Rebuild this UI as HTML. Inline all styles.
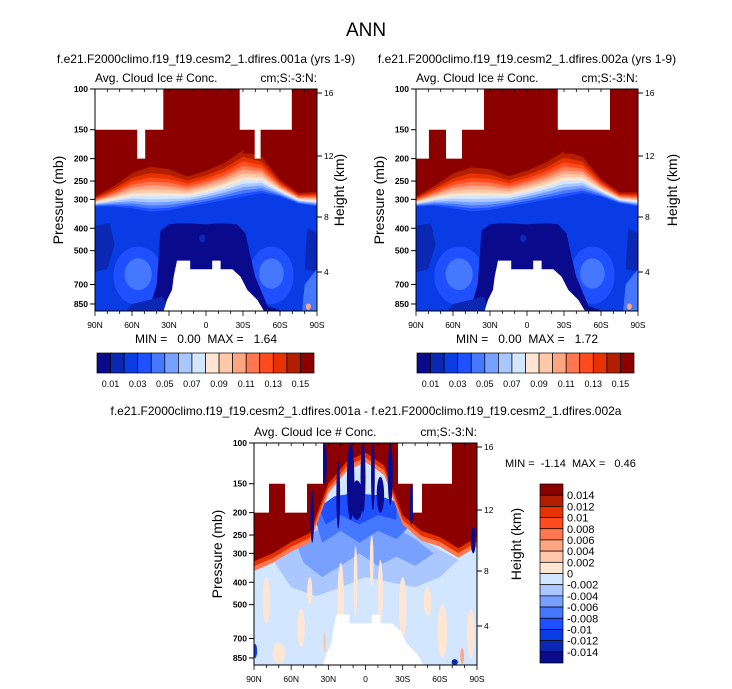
<!DOCTYPE html>
<html><head><meta charset="utf-8"><style>
body{margin:0;background:#fff;width:732px;height:689px;overflow:hidden}
svg{display:block}
text{font-family:"Liberation Sans",sans-serif;fill:#000;white-space:pre}
</style></head><body>
<svg id="c" width="732" height="689">
<text x="366" y="36" text-anchor="middle" font-size="19">ANN</text>
</svg>
<script>
// ---- data ----
const lats=[90,75,60,45,30,15,0,-15,-30,-45,-60,-75,-90];
const redBaseA=[292,264,231,217,222,239,226,209,184,196,247,282,278];
const blueTopA=[322,322,328,339,335,322,313,302,292,282,292,313,322];
const redBaseB=[292,262,232,218,222,238,225,208,186,196,245,280,280];
const blueTopB=[322,320,328,338,334,322,312,302,292,282,292,312,322];
const diffRedBase=[325,300,268,245,150,120,110,125,205,240,255,285,255];
const palette=['#0a0a8c','#0a28b4','#0a3ce6','#1e50ff','#4678ff','#78a0ff','#aac8ff','#d2e6ff','#ffe6d2','#ffc8aa','#ffa582','#ff7850','#ff4b1e','#e63200','#b41e00','#8c0000'];
const cbLabels=['0.01','0.03','0.05','0.07','0.09','0.11','0.13','0.15'];
const diffLabels=['0.014','0.012','0.01','0.008','0.006','0.004','0.002','0','-0.002','-0.004','-0.006','-0.008','-0.01','-0.012','-0.014'];
const pTicks=[100,150,200,250,300,400,500,700,850];
const hTicks=[16,12,8,4];
const latTicks=[90,60,30,0,-30,-60,-90];
const latTickLabels=['90N','60N','30N','0','30S','60S','90S'];
const surfMask=[[23.5,552],[12.8,552],[12.8,601],[-5,601],[-5,552],[-11.8,552],[-11.8,601],[-21.3,601],[-28,647],[-33.5,739],[-41.6,816],[-47,912],[34.4,912],[31.6,816],[27.6,739],[26.2,647]];
const topMaskA=[[[90,100],[34.6,100],[34.6,150],[49.3,150],[49.3,200],[55.8,200],[55.8,150],[90,150]],[[-27.3,100],[-69.6,100],[-69.6,150],[-44.3,150],[-44.3,200],[-39.5,200],[-39.5,150],[-27.3,150]]];
const topMaskB=[[[90,100],[34.9,100],[34.9,150],[52.7,150],[52.7,200],[65.7,200],[65.7,150],[79.5,150],[79.5,200],[90,200]],[[-25,100],[-67.3,100],[-67.3,150],[-25,150]]];
const topMaskD=[[[90,100],[34.3,100],[34.3,150],[47.2,150],[47.2,200],[65,200],[65,150],[77.9,150],[77.9,200],[90,200]],[[-26.2,100],[-69.8,100],[-69.8,150],[-38.3,150],[-38.3,200],[-45.6,200],[-45.6,150],[-26.2,150]]];
const minmax=['MIN =   0.00  MAX =   1.64','MIN =   0.00  MAX =   1.72'];
const NS='http://www.w3.org/2000/svg';
const svg=document.getElementById('c');
function el(tag,attrs,parent){const e=document.createElementNS(NS,tag);for(const k in attrs)e.setAttribute(k,attrs[k]);(parent||svg).appendChild(e);return e;}
function txt(x,y,s,size,anchor,parent){const t=el('text',{x:x,y:y,'font-size':size,'text-anchor':anchor||'start'},parent);t.textContent=s;return t;}

function panel(x0,y0,w,h,id){
  const X=lat=>x0+(90-lat)/180*w;
  const Y=p=>y0+h*Math.log(p/100)/2.21;
  const g=el('g',{});
  
  
  const cp=el('clipPath',{id:'cp'+id},g);
  el('rect',{x:x0,y:y0,width:w,height:h},cp);
  const f=el('g',{'clip-path':'url(#cp'+id+')'},g);
  const poly=(pts,col,name)=>{const e=el('polygon',{points:pts.map(q=>X(q[0]).toFixed(1)+','+Y(q[1]).toFixed(1)).join(' '),fill:col},f);
    
    return e;};
  const ell=(lat,p,dl,p1,p2,col,name)=>{const e=el('ellipse',{cx:X(lat),cy:(Y(p1)+Y(p2))/2,rx:Math.abs(X(lat+dl)-X(lat)),ry:(Y(p2)-Y(p1))/2,fill:col},f);
    
    return e;};
  return {X,Y,g,f,poly,ell,x0,y0,w,h};
}
function upperBands(P,red,blue){
  for(let c=3;c<=15;c++){
    const fr=(15-c)/12;
    const pts=[[90,90]];
    lats.forEach((la,i)=>{const lp=Math.log(red[i])+Math.pow(fr,0.8)*(Math.log(blue[i])-Math.log(red[i]));pts.push([la,Math.exp(lp)]);});
    pts.push([-90,90]);
    P.poly(pts,palette[c],'contour-band-'+c);
  }
}
function icePanel(x0,red,blue,masks,id){
  const P=panel(x0,89,222,222,id);
  el('rect',{x:x0,y:89,width:222,height:222,fill:palette[2]},P.f);
  P.poly([[90,390],[78,380],[74,470],[80,600],[90,620]],palette[1],'dark-region-north');
  P.poly([[-90,420],[-82,400],[-80,600],[-90,620]],palette[1],'dark-region-south');
  P.ell(55,620,20,480,860,palette[3],'midlat-blob-n1');
  P.ell(55,620,11,540,740,palette[4],'midlat-blob-n2');
  P.ell(-53,620,18,480,850,palette[3],'midlat-blob-s1');
  P.ell(-53,620,10,540,730,palette[4],'midlat-blob-s2');
  P.poly([[37,410],[30,385],[20,380],[10,382],[0,385],[-15,380],[-25,385],[-32,420],[-35,500],[-40,650],[-50,870],[-62,912],[40,912],[45,860],[40,700],[38,500]],palette[0],'tropical-low-core');
  P.ell(3,440,2.5,425,460,palette[1],'tropical-spot');
  P.poly([[60,850],[35,790],[30,912],[65,912]],palette[1],'low-band-north');
  P.poly([[-80,700],[-90,600],[-90,912],[-78,912]],palette[4],'polar-south-low');
  P.ell(-83,875,2,845,900,palette[10],'polar-south-spot');
  upperBands(P,red,blue);
  P.poly([[-30,190],[-35,140],[-40,190]],palette[15],'tongue');
  masks.forEach((m,i)=>P.poly(m,'#fff','missing-mask-'+i));
  P.poly(surfMask,'#fff','surface-mask');
  return P;
}
function diffPanel(){
  const P=panel(254,443,223,222,'diff');
  el('rect',{x:254,y:443,width:223,height:222,fill:palette[7]},P.f);
  P.poly([[75,320],[60,270],[45,240],[30,220],[15,210],[0,200],[-15,210],[-30,230],[-45,260],[-60,290],[-75,320],[-60,380],[-40,420],[-20,400],[0,380],[20,420],[40,460],[60,420]],palette[6],'neg-region-upper');
  P.poly([[55,280],[45,250],[30,225],[0,215],[-20,225],[-40,260],[-55,300],[-40,340],[-25,310],[-10,340],[5,300],[20,340],[35,380],[50,330]],palette[5],'neg-region-upper2');
  P.poly([[42,200],[30,180],[10,170],[-10,175],[-28,190],[-35,230],[-25,260],[-10,240],[5,270],[20,240],[35,270]],palette[4],'neg-region-upper3');
  P.poly([[38,190],[25,170],[10,165],[-10,168],[-25,180],[-25,215],[-10,205],[5,225],[20,205],[32,225]],palette[3],'neg-region-upper4');
  const pinks=[[80,450,3,380,600],[20,450,2.5,330,650],[8,420,1.5,280,560],[-12,430,2,320,600],[-30,500,3,380,700],[52,620,3,520,760],[-62,640,4,500,850],[-85,640,3,520,850],[70,800,5,730,900],[-5,330,1.5,250,420],[-50,480,3,420,560],[45,430,2,380,500]];
  pinks.forEach((q,i)=>P.ell(q[0],0,q[2],q[3],q[4],palette[8],'pos-streak-'+i));
  P.ell(33,730,1.2,660,800,palette[9],'pos-spot-1');
  P.ell(-78,830,1.5,770,900,palette[10],'pos-spot-2');
  P.ell(89,790,1.5,740,850,palette[2],'neg-spot-1');
  P.ell(-72,885,2.5,860,912,palette[1],'neg-spot-2');
  const band=(k,col)=>{const pts=[[90,90]];lats.forEach((la,i)=>pts.push([la,diffRedBase[i]*k]));pts.push([-90,90]);P.poly(pts,col,'pos-band');};
  band(1.1,palette[11]);band(1.05,palette[13]);band(1.0,palette[15]);
  const navy=[[33,100,1.8,100,150],[12,100,3,100,215],[2,100,2,100,200],[-20,100,2,100,185],[-6,120,1.5,100,195],[43,170,1.5,160,270],[22,140,1.5,120,235],[-37,170,1.5,150,225],[-87,260,2,230,300],[7,160,5,145,215],[-12,150,3,140,200]];
  navy.forEach((q,i)=>P.ell(q[0],0,q[2],q[3],q[4],palette[0],'neg-streak-'+i));
  topMaskD.forEach((m,i)=>P.poly(m,'#fff','missing-mask-'+i));
  P.poly(surfMask,'#fff','surface-mask');
  return P;
}
function axes(P,hx,title){
  const {X,Y,x0,y0,w,h}=P;
  const a=el('g',{});
  
  
  el('rect',{x:x0,y:y0,width:w,height:h,fill:'none',stroke:'#000','stroke-width':1},a);
  for(let la=90;la>=-90;la-=10){
    el('line',{x1:X(la),x2:X(la),y1:y0,y2:y0+3,stroke:'#000','stroke-width':0.8},a);
    el('line',{x1:X(la),x2:X(la),y1:y0+h,y2:y0+h+(la%30===0?5:3),stroke:'#000','stroke-width':0.8},a);
  }
  latTicks.forEach((la,i)=>txt(X(la),y0+h+17,latTickLabels[i],8.5,'middle',a));
  pTicks.forEach(p=>{el('line',{x1:x0-5,x2:x0,y1:Y(p),y2:Y(p),stroke:'#000'},a);txt(x0-7,Y(p)+3,String(p),8.5,'end',a).setAttribute('font-weight','bold');});
  hTicks.forEach((hk)=>{const yy=y0+h-(hk===16?218:hk===12?155:hk===8?94:39);el('line',{x1:x0+w,x2:x0+w+5,y1:yy,y2:yy,stroke:'#000'},a);txt(x0+w+7,yy+3,String(hk),8.5,'start',a);});
  const t1=txt(x0-32,y0+h/2,'Pressure (mb)',14,'middle',a);t1.setAttribute('transform','rotate(-90 '+(x0-32)+' '+(y0+h/2)+')');
  
  const t2=txt(hx,y0+h/2-10,'Height (km)',14,'middle',a);t2.setAttribute('transform','rotate(-90 '+hx+' '+(y0+h/2-10)+')');
  
  txt(x0,y0-7,'Avg. Cloud Ice # Conc.',12,'start',a);
  txt(x0+w,y0-7,'cm;S:-3:N:',12,'end',a);
  txt(x0+w/2,y0-26,title,12,'middle',a);
}
function hbar(x0,y0,w,h){
  const g=el('g',{});
  
  
  const bw=w/16;
  palette.forEach((c,i)=>el('rect',{x:x0+i*bw,y:y0,width:bw,height:h,fill:c,stroke:'#000','stroke-width':0.7},g));
  cbLabels.forEach((s,i)=>txt(x0+(2*i+1)*bw,y0+h+14,s,9,'middle',g));
}
const A=icePanel(95,redBaseA,blueTopA,topMaskA,'left');
axes(A,344,'f.e21.F2000climo.f19_f19.cesm2_1.dfires.001a (yrs 1-9)');
txt(206,343,minmax[0],12,'middle');
hbar(97,353,217,20);
const B=icePanel(416,redBaseB,blueTopB,topMaskB,'right');
axes(B,677,'f.e21.F2000climo.f19_f19.cesm2_1.dfires.002a (yrs 1-9)');
txt(527,343,minmax[1],12,'middle');
hbar(417,353,217,20);
const D=diffPanel();
axes(D,521,'');
txt(366,415,'f.e21.F2000climo.f19_f19.cesm2_1.dfires.001a - f.e21.F2000climo.f19_f19.cesm2_1.dfires.002a',12,'middle');
txt(505,467,'MIN =  -1.14  MAX =   0.46',11,'start');
(function(){
  const g=el('g',{});
  
  
  const x0=540,y0=484,w=23,bh=179/16;
  for(let i=0;i<16;i++)el('rect',{x:x0,y:y0+i*bh,width:w,height:bh,fill:palette[15-i],stroke:'#000','stroke-width':0.7},g);
  diffLabels.forEach((s,i)=>txt(x0+w+4,y0+(i+1)*bh+4,s,11,'start',g));
})();
</script>
</body></html>
